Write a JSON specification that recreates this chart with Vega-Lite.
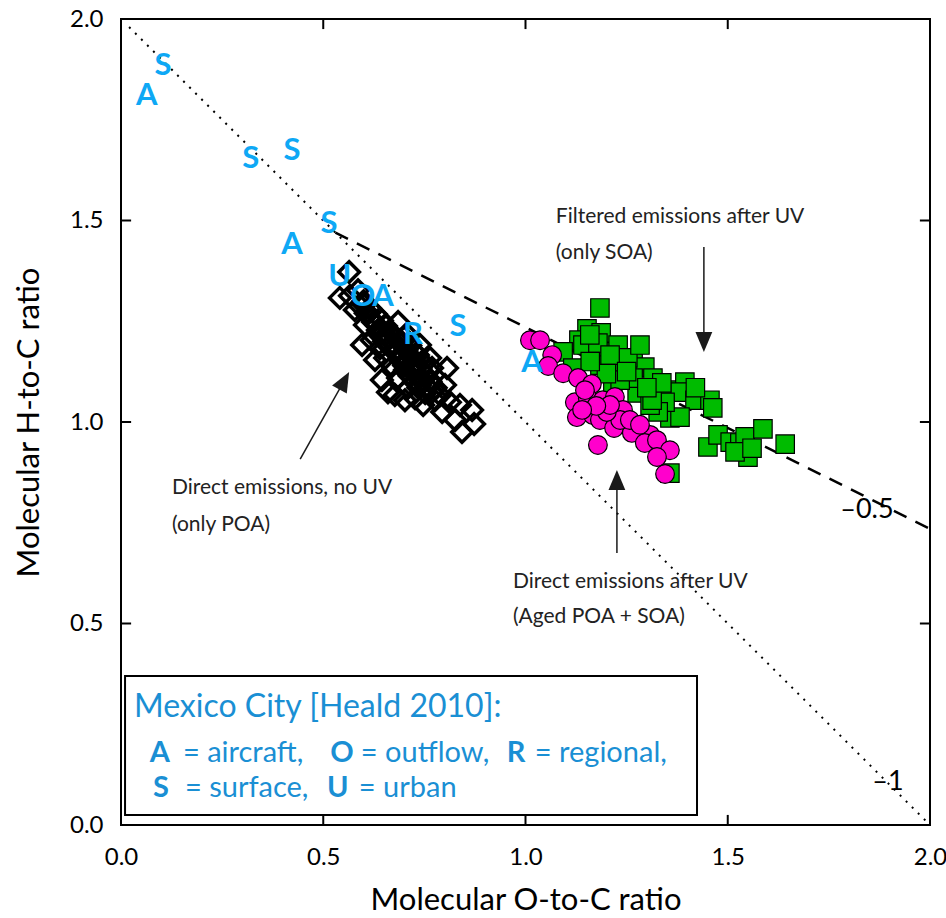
{
  "$schema": "https://vega.github.io/schema/vega-lite/v6.json",
  "width": 809,
  "height": 806,
  "autosize": "none",
  "padding": {"left": 121, "top": 19, "right": 16, "bottom": 93},
  "config": {"font": "Lato", "view": {"stroke": "black", "strokeWidth": 2}},
  "resolve": {"axis": {"x": "independent", "y": "independent"}},
  "datasets": {
    "dotted": [{"x": 0.02, "y": 1.98, "x2": 2.0, "y2": 0.0}],
    "dashed": [{"x": 0.53, "y": 1.47, "x2": 2.0, "y2": 0.735}],
    "ticks": [
      {"x": 0.5, "y": 0, "x2": 0.5, "y2": 0.025}, {"x": 1.0, "y": 0, "x2": 1.0, "y2": 0.025}, {"x": 1.5, "y": 0, "x2": 1.5, "y2": 0.025},
      {"x": 0.5, "y": 1.975, "x2": 0.5, "y2": 2}, {"x": 1.0, "y": 1.975, "x2": 1.0, "y2": 2}, {"x": 1.5, "y": 1.975, "x2": 1.5, "y2": 2},
      {"x": 0, "y": 0.5, "x2": 0.025, "y2": 0.5}, {"x": 0, "y": 1.0, "x2": 0.025, "y2": 1.0}, {"x": 0, "y": 1.5, "x2": 0.025, "y2": 1.5},
      {"x": 1.975, "y": 0.5, "x2": 2, "y2": 0.5}, {"x": 1.975, "y": 1.0, "x2": 2, "y2": 1.0}, {"x": 1.975, "y": 1.5, "x2": 2, "y2": 1.5}
    ],
    "green": [
      {"x": 1.184, "y": 1.283}, {"x": 1.152, "y": 1.231}, {"x": 1.187, "y": 1.221}, {"x": 1.132, "y": 1.203},
      {"x": 1.142, "y": 1.191}, {"x": 1.093, "y": 1.174}, {"x": 1.187, "y": 1.174}, {"x": 1.229, "y": 1.191},
      {"x": 1.179, "y": 1.196}, {"x": 1.117, "y": 1.134}, {"x": 1.184, "y": 1.141}, {"x": 1.221, "y": 1.136},
      {"x": 1.266, "y": 1.149}, {"x": 1.295, "y": 1.136}, {"x": 1.216, "y": 1.097}, {"x": 1.276, "y": 1.072},
      {"x": 1.266, "y": 1.109}, {"x": 1.315, "y": 1.109}, {"x": 1.357, "y": 1.079}, {"x": 1.394, "y": 1.099},
      {"x": 1.382, "y": 1.074}, {"x": 1.419, "y": 1.054}, {"x": 1.456, "y": 1.054}, {"x": 1.463, "y": 1.035},
      {"x": 1.357, "y": 1.010}, {"x": 1.382, "y": 1.012}, {"x": 1.345, "y": 1.049}, {"x": 1.328, "y": 1.025},
      {"x": 1.308, "y": 1.042}, {"x": 1.313, "y": 1.054}, {"x": 1.451, "y": 0.938}, {"x": 1.476, "y": 0.968},
      {"x": 1.506, "y": 0.950}, {"x": 1.530, "y": 0.948}, {"x": 1.550, "y": 0.913}, {"x": 1.543, "y": 0.963},
      {"x": 1.587, "y": 0.983}, {"x": 1.642, "y": 0.945}, {"x": 1.357, "y": 0.873}, {"x": 1.253, "y": 1.159},
      {"x": 1.337, "y": 1.097}, {"x": 1.234, "y": 1.104}, {"x": 1.283, "y": 1.191}, {"x": 1.159, "y": 1.216},
      {"x": 1.209, "y": 1.166}, {"x": 1.518, "y": 0.926}, {"x": 1.560, "y": 0.935}, {"x": 1.200, "y": 1.120},
      {"x": 1.250, "y": 1.125}, {"x": 1.300, "y": 1.085}, {"x": 1.160, "y": 1.150}, {"x": 1.420, "y": 1.085}
    ],
    "magenta": [
      {"x": 1.011, "y": 1.203}, {"x": 1.036, "y": 1.203}, {"x": 1.066, "y": 1.166}, {"x": 1.056, "y": 1.139},
      {"x": 1.093, "y": 1.121}, {"x": 1.130, "y": 1.109}, {"x": 1.164, "y": 1.094}, {"x": 1.122, "y": 1.049},
      {"x": 1.154, "y": 1.059}, {"x": 1.191, "y": 1.054}, {"x": 1.221, "y": 1.062}, {"x": 1.241, "y": 1.030},
      {"x": 1.127, "y": 1.012}, {"x": 1.167, "y": 1.017}, {"x": 1.184, "y": 1.005}, {"x": 1.219, "y": 0.985},
      {"x": 1.263, "y": 0.973}, {"x": 1.179, "y": 0.943}, {"x": 1.308, "y": 0.968}, {"x": 1.295, "y": 0.948},
      {"x": 1.325, "y": 0.955}, {"x": 1.357, "y": 0.930}, {"x": 1.325, "y": 0.913}, {"x": 1.345, "y": 0.871},
      {"x": 1.234, "y": 1.005}, {"x": 1.201, "y": 1.025}, {"x": 1.258, "y": 1.005}, {"x": 1.283, "y": 0.993},
      {"x": 1.147, "y": 1.079}, {"x": 1.209, "y": 1.042}, {"x": 1.175, "y": 1.040}, {"x": 1.140, "y": 1.030}
    ],
    "poa": [
      {"x": 0.564, "y": 1.372}, {"x": 0.541, "y": 1.308}, {"x": 0.566, "y": 1.313}, {"x": 0.586, "y": 1.327},
      {"x": 0.596, "y": 1.295}, {"x": 0.578, "y": 1.278}, {"x": 0.611, "y": 1.270}, {"x": 0.623, "y": 1.248},
      {"x": 0.603, "y": 1.241}, {"x": 0.635, "y": 1.228}, {"x": 0.653, "y": 1.216}, {"x": 0.620, "y": 1.203},
      {"x": 0.665, "y": 1.191}, {"x": 0.640, "y": 1.183}, {"x": 0.677, "y": 1.174}, {"x": 0.653, "y": 1.159},
      {"x": 0.690, "y": 1.154}, {"x": 0.670, "y": 1.139}, {"x": 0.702, "y": 1.129}, {"x": 0.685, "y": 1.109},
      {"x": 0.714, "y": 1.114}, {"x": 0.727, "y": 1.141}, {"x": 0.739, "y": 1.092}, {"x": 0.709, "y": 1.084},
      {"x": 0.660, "y": 1.074}, {"x": 0.752, "y": 1.072}, {"x": 0.727, "y": 1.059}, {"x": 0.764, "y": 1.104},
      {"x": 0.776, "y": 1.054}, {"x": 0.747, "y": 1.042}, {"x": 0.789, "y": 1.067}, {"x": 0.801, "y": 1.092},
      {"x": 0.813, "y": 1.049}, {"x": 0.794, "y": 1.025}, {"x": 0.838, "y": 1.042}, {"x": 0.868, "y": 1.030},
      {"x": 0.826, "y": 1.005}, {"x": 0.843, "y": 0.975}, {"x": 0.873, "y": 0.995}, {"x": 0.769, "y": 1.134},
      {"x": 0.734, "y": 1.166}, {"x": 0.690, "y": 1.203}, {"x": 0.677, "y": 1.067}, {"x": 0.702, "y": 1.054},
      {"x": 0.645, "y": 1.104}, {"x": 0.628, "y": 1.154}, {"x": 0.596, "y": 1.191}, {"x": 0.685, "y": 1.248},
      {"x": 0.707, "y": 1.218}, {"x": 0.764, "y": 1.159}, {"x": 0.806, "y": 1.134}, {"x": 0.739, "y": 1.191},
      {"x": 0.590, "y": 1.289}, {"x": 0.600, "y": 1.300}, {"x": 0.605, "y": 1.270}, {"x": 0.615, "y": 1.283},
      {"x": 0.620, "y": 1.255}, {"x": 0.630, "y": 1.268}, {"x": 0.632, "y": 1.240}, {"x": 0.645, "y": 1.252},
      {"x": 0.648, "y": 1.225}, {"x": 0.655, "y": 1.238}, {"x": 0.660, "y": 1.210}, {"x": 0.668, "y": 1.222},
      {"x": 0.672, "y": 1.195}, {"x": 0.680, "y": 1.208}, {"x": 0.685, "y": 1.180}, {"x": 0.692, "y": 1.193},
      {"x": 0.697, "y": 1.165}, {"x": 0.705, "y": 1.178}, {"x": 0.708, "y": 1.150}, {"x": 0.716, "y": 1.162},
      {"x": 0.720, "y": 1.135}, {"x": 0.728, "y": 1.148}, {"x": 0.731, "y": 1.120}, {"x": 0.740, "y": 1.132},
      {"x": 0.744, "y": 1.105}, {"x": 0.752, "y": 1.118}, {"x": 0.756, "y": 1.090}, {"x": 0.765, "y": 1.100},
      {"x": 0.770, "y": 1.075}, {"x": 0.778, "y": 1.085}, {"x": 0.700, "y": 1.140}, {"x": 0.690, "y": 1.160},
      {"x": 0.675, "y": 1.175}, {"x": 0.710, "y": 1.120}, {"x": 0.725, "y": 1.100}, {"x": 0.735, "y": 1.085},
      {"x": 0.665, "y": 1.190}, {"x": 0.650, "y": 1.200}, {"x": 0.640, "y": 1.215}, {"x": 0.715, "y": 1.190},
      {"x": 0.700, "y": 1.210}, {"x": 0.730, "y": 1.170}, {"x": 0.745, "y": 1.150}, {"x": 0.760, "y": 1.130}
    ],
    "letters": [
      {"x": 0.104, "y": 1.883, "t": "S"}, {"x": 0.064, "y": 1.809, "t": "A"}, {"x": 0.321, "y": 1.653, "t": "S"},
      {"x": 0.423, "y": 1.672, "t": "S"}, {"x": 0.514, "y": 1.491, "t": "S"}, {"x": 0.423, "y": 1.439, "t": "A"},
      {"x": 0.541, "y": 1.360, "t": "U"}, {"x": 0.598, "y": 1.310, "t": "O"}, {"x": 0.648, "y": 1.310, "t": "A"},
      {"x": 0.722, "y": 1.216, "t": "R"}, {"x": 0.833, "y": 1.236, "t": "S"}, {"x": 1.016, "y": 1.146, "t": "A"}
    ],
    "arrows": [
      {"x": 1.441, "y": 1.434, "x2": 1.441, "y2": 1.19},
      {"x": 0.443, "y": 0.908, "x2": 0.556, "y2": 1.11},
      {"x": 1.226, "y": 0.675, "x2": 1.226, "y2": 0.86}
    ],
    "heads": [
      {"x": 1.441, "y": 1.174, "a": 180},
      {"x": 0.564, "y": 1.124, "a": 29},
      {"x": 1.226, "y": 0.881, "a": 0}
    ],
    "notes": [
      {"x": 1.075, "y": 1.509, "t": "Filtered emissions after UV"},
      {"x": 1.075, "y": 1.419, "t": "(only SOA)"},
      {"x": 0.126, "y": 0.836, "t": "Direct emissions, no UV"},
      {"x": 0.126, "y": 0.744, "t": "(only POA)"},
      {"x": 0.969, "y": 0.603, "t": "Direct emissions after UV"},
      {"x": 0.969, "y": 0.516, "t": "(Aged POA + SOA)"}
    ],
    "slopes": [
      {"x": 1.844, "y": 0.782, "t": "–0.5"},
      {"x": 1.896, "y": 0.107, "t": "–1"}
    ],
    "box": [{"x": 0.01, "y": 0.37, "x2": 1.424, "y2": 0.025}],
    "leghead": [
      {"x": 0.032, "y": 0.293, "t": "Mexico City [Heald 2010]:"}
    ],
    "legnormal": [
      {"x": 0.153, "y": 0.179, "t": "= aircraft,"},
      {"x": 0.593, "y": 0.179, "t": "= outflow,"},
      {"x": 1.023, "y": 0.179, "t": "= regional,"},
      {"x": 0.158, "y": 0.092, "t": "= surface,"},
      {"x": 0.588, "y": 0.092, "t": "= urban"}
    ],
    "legbold": [
      {"x": 0.096, "y": 0.179, "t": "A"},
      {"x": 0.546, "y": 0.179, "t": "O"},
      {"x": 0.977, "y": 0.179, "t": "R"},
      {"x": 0.099, "y": 0.092, "t": "S"},
      {"x": 0.536, "y": 0.092, "t": "U"}
    ]
  },
  "encoding": {
    "x": {"field": "x", "type": "quantitative", "scale": {"domain": [0, 2], "nice": false, "zero": false}, "axis": null},
    "y": {"field": "y", "type": "quantitative", "scale": {"domain": [0, 2], "nice": false, "zero": false}, "axis": null}
  },
  "layer": [
    {
      "data": {"name": "dotted"},
      "mark": {"type": "rule", "color": "black", "strokeWidth": 2, "strokeDash": [2, 6.5]},
      "encoding": {
        "x": {"field": "x", "type": "quantitative", "scale": {"domain": [0, 2], "nice": false, "zero": false},
          "axis": {"orient": "bottom", "values": [0, 0.5, 1, 1.5, 2], "format": ".1f", "domain": false, "grid": false,
            "ticks": false, "tickSize": 0,
            "labelFontSize": 24, "labelColor": "black",
            "labelFlush": false, "labelOverlap": false, "labelPadding": 20, "labelFont": "Lato",
            "title": "Molecular O-to-C ratio", "titleFontSize": 31, "titleFontWeight": "normal", "titleColor": "black",
            "titleFont": "Lato", "titlePadding": 16}},
        "y": {"field": "y", "type": "quantitative", "scale": {"domain": [0, 2], "nice": false, "zero": false},
          "axis": {"orient": "left", "values": [0, 0.5, 1, 1.5, 2], "format": ".1f", "domain": false, "grid": false,
            "ticks": false, "tickSize": 0,
            "labelFontSize": 24, "labelColor": "black",
            "labelFlush": false, "labelOverlap": false, "labelPadding": 18, "labelFont": "Lato",
            "title": "Molecular H-to-C ratio", "titleFontSize": 31, "titleFontWeight": "normal", "titleColor": "black",
            "titleFont": "Lato", "titlePadding": 24}},
        "x2": {"field": "x2"},
        "y2": {"field": "y2"}
      }
    },
    {
      "data": {"name": "dashed"},
      "mark": {"type": "rule", "color": "black", "strokeWidth": 2.5, "strokeDash": [14, 10]},
      "encoding": {"x2": {"field": "x2"}, "y2": {"field": "y2"}}
    },
    {
      "data": {"name": "green"},
      "mark": {"type": "point", "shape": "square", "filled": true, "fill": "#00bb00", "stroke": "black", "strokeWidth": 1.2, "size": 340, "opacity": 1}
    },
    {
      "data": {"name": "magenta"},
      "mark": {"type": "point", "shape": "circle", "filled": true, "fill": "#ff00cc", "stroke": "black", "strokeWidth": 1.2, "size": 350, "opacity": 1}
    },
    {
      "data": {"name": "poa"},
      "mark": {"type": "point", "shape": "diamond", "filled": false, "stroke": "black", "strokeWidth": 3.5, "size": 420, "opacity": 1}
    },
    {
      "data": {"name": "letters"},
      "mark": {"type": "text", "font": "Lato", "fontWeight": "bold", "fontSize": 31, "color": "#0ea8f5", "align": "center", "baseline": "middle"},
      "encoding": {"text": {"field": "t"}}
    },
    {
      "data": {"name": "arrows"},
      "mark": {"type": "rule", "color": "#1a1a1a", "strokeWidth": 1.5},
      "encoding": {"x2": {"field": "x2"}, "y2": {"field": "y2"}}
    },
    {
      "data": {"name": "heads"},
      "mark": {"type": "point", "shape": "M0,0L0.42,1L-0.42,1Z", "filled": true, "color": "#1a1a1a", "size": 1600, "opacity": 1, "strokeWidth": 0},
      "encoding": {"angle": {"field": "a", "type": "quantitative", "scale": null}}
    },
    {
      "data": {"name": "notes"},
      "mark": {"type": "text", "font": "Lato", "fontSize": 21, "color": "#222222", "align": "left", "baseline": "middle"},
      "encoding": {"text": {"field": "t"}}
    },
    {
      "data": {"name": "slopes"},
      "mark": {"type": "text", "font": "Lato", "fontSize": 27, "color": "black", "align": "center", "baseline": "middle"},
      "encoding": {"text": {"field": "t"}}
    },
    {
      "data": {"name": "box"},
      "mark": {"type": "rect", "fill": "white", "stroke": "black", "strokeWidth": 2},
      "encoding": {"x2": {"field": "x2"}, "y2": {"field": "y2"}}
    },
    {
      "data": {"name": "ticks"},
      "mark": {"type": "rule", "color": "black", "strokeWidth": 2},
      "encoding": {"x2": {"field": "x2"}, "y2": {"field": "y2"}}
    },
    {
      "data": {"name": "leghead"},
      "mark": {"type": "text", "font": "Lato", "fontSize": 32, "color": "#1a8fd4", "align": "left", "baseline": "middle"},
      "encoding": {"text": {"field": "t"}}
    },
    {
      "data": {"name": "legnormal"},
      "mark": {"type": "text", "font": "Lato", "fontSize": 29, "color": "#1a8fd4", "align": "left", "baseline": "middle"},
      "encoding": {"text": {"field": "t"}}
    },
    {
      "data": {"name": "legbold"},
      "mark": {"type": "text", "font": "Lato", "fontWeight": "bold", "fontSize": 29, "color": "#1a8fd4", "align": "center", "baseline": "middle"},
      "encoding": {"text": {"field": "t"}}
    }
  ]
}
